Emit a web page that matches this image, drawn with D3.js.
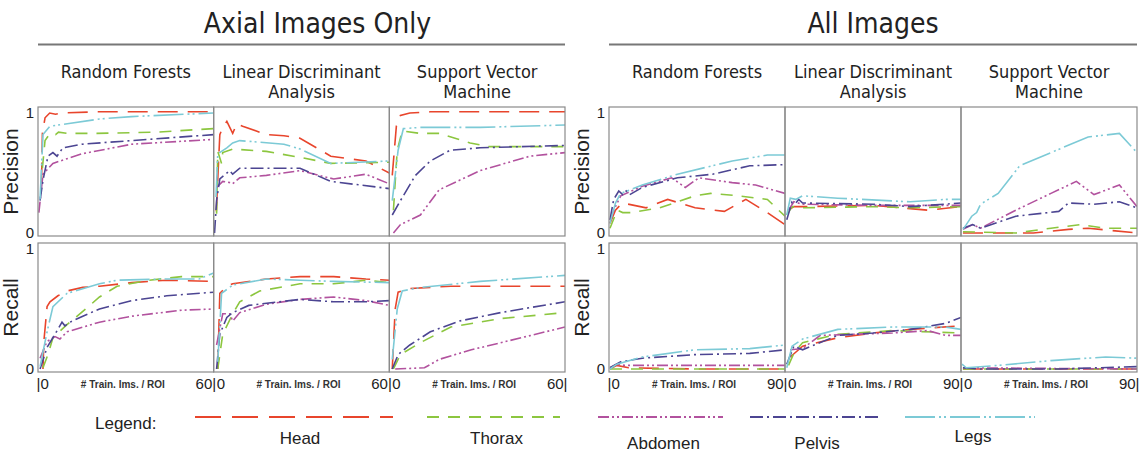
<!DOCTYPE html>
<html>
<head>
<meta charset="utf-8">
<script src="https://cdn.jsdelivr.net/npm/d3@7"></script>
<style>
  body { margin: 0; background: #fff; }
  svg { font-family: "Liberation Sans Narrow", "DejaVu Sans Condensed", sans-serif; }
</style>
</head>
<body>
<div id="chart"></div>
<script>
const series = ["Head", "Thorax", "Abdomen", "Pelvis", "Legs"];
const colors = ["#e8452c", "#8cc63f", "#b2529e", "#4c4592", "#7ccad6"];
const dashes = ["20,10", "12,9", "11,3,2,3,2,3", "13,4,2,4", "30,4,2,3,2,4"];
const classifiers = [["Random Forests"], ["Linear Discriminant", "Analysis"], ["Support Vector", "Machine"]];
const groupTitles = ["Axial Images Only", "All Images"];
const xMax = [60, 90];
const rowLabels = ["Precision", "Recall"];
const yTicks = [0, 1];

// each panel: 5 series (Head, Thorax, Abdomen, Pelvis, Legs) of [# train ims, value]
const axialRfPrec = [
  [[1.2,0.42],[1.5,0.83],[2.4,0.96],[4,1.0],[6,0.99],[8,1.0],[20,1.01],[60,1.01]],
  [[1.5,0.54],[2.4,0.77],[4.1,0.83],[6,0.82],[7,0.84],[10,0.83],[20,0.83],[40,0.84],[60,0.87]],
  [[0.3,0.17],[1.7,0.49],[5.1,0.58],[15,0.66],[32,0.74],[60,0.78]],
  [[0.7,0.27],[1.7,0.44],[3.4,0.64],[5.1,0.67],[6.5,0.64],[8.5,0.71],[15,0.74],[32,0.77],[60,0.82]],
  [[0.7,0.28],[1.7,0.82],[4.1,0.89],[10,0.91],[21,0.95],[32,0.97],[60,1.0]]
];
const axialLdaPrec = [
  [[0.9,0.18],[2.1,0.82],[3.1,0.88],[4.5,0.93],[5.5,0.88],[6.5,0.83],[7.9,0.91],[9.9,0.89],[18,0.82],[24,0.81],[29.5,0.79],[40,0.64],[52,0.6],[60,0.5]],
  [[1,0.16],[1.4,0.68],[2.7,0.58],[3.1,0.67],[6.5,0.7],[18,0.68],[29.5,0.63],[40,0.58],[60,0.59]],
  [[1,0.38],[3.1,0.43],[5.5,0.42],[6.5,0.41],[8.9,0.46],[18,0.48],[29.5,0.52],[41,0.45],[52,0.49],[60,0.41]],
  [[0.3,0],[1,0.27],[2.1,0.45],[5.5,0.52],[6.5,0.49],[8.9,0.54],[29.5,0.54],[40,0.43],[60,0.37]],
  [[0.8,0.3],[1.4,0.66],[4.5,0.71],[6.5,0.75],[8.9,0.77],[24,0.74],[29.5,0.7],[40,0.58],[60,0.6]]
];
const axialSvmPrec = [
  [[1,0.48],[2.4,0.89],[3.8,0.98],[7,1.0],[14,1.01],[60,1.01]],
  [[1.4,0.19],[2.7,0.69],[4.4,0.85],[10.6,0.83],[17,0.83],[27.6,0.75],[34,0.72],[60,0.72]],
  [[1.4,0],[3.8,0.07],[10.6,0.15],[17,0.36],[31,0.52],[48,0.64],[60,0.67]],
  [[1,0.15],[3.8,0.27],[8.9,0.48],[14,0.6],[20.8,0.69],[31,0.71],[60,0.73]],
  [[1,0.27],[3,0.69],[4.8,0.87],[10.6,0.88],[31,0.88],[60,0.9]]
];
const axialRfRec = [
  [[1.7,0],[2,0.23],[3.1,0.52],[4.1,0.56],[6.8,0.61],[9.9,0.65],[15.3,0.68],[21,0.69],[32,0.72],[44,0.74],[60,0.73]],
  [[1.7,0.01],[3.4,0.12],[5.1,0.26],[9.9,0.37],[15.3,0.48],[21,0.6],[27,0.69],[38,0.74],[49,0.77],[60,0.77]],
  [[0.7,0.09],[3.1,0.23],[5.8,0.27],[7.5,0.25],[9.9,0.31],[21,0.39],[32,0.44],[49,0.49],[60,0.5]],
  [[0.7,0],[3.1,0.18],[5.8,0.29],[8.2,0.39],[9.2,0.36],[10.9,0.39],[15.3,0.44],[21,0.5],[32,0.57],[44,0.61],[60,0.64]],
  [[0.7,0.02],[3.1,0.31],[5.1,0.52],[9.9,0.63],[21,0.71],[27,0.74],[44,0.75],[55,0.75],[60,0.8]]
];
const axialLdaRec = [
  [[1.4,0],[2.1,0.63],[4.5,0.69],[6.5,0.71],[18,0.75],[29.5,0.77],[41,0.77],[52,0.75],[60,0.74]],
  [[1.4,0],[3.1,0.29],[6.5,0.46],[8.9,0.56],[15.7,0.65],[29.5,0.71],[41,0.71],[52,0.74],[60,0.72]],
  [[1,0.2],[3.1,0.46],[5.5,0.46],[6.5,0.4],[8.9,0.47],[18,0.54],[29.5,0.58],[41,0.6],[52,0.57],[60,0.53]],
  [[1,0],[2.1,0.29],[4.5,0.43],[6.5,0.47],[12,0.53],[29.5,0.58],[41,0.56],[52,0.56],[60,0.57]],
  [[1.4,0.06],[2.7,0.63],[6.5,0.7],[18,0.75],[29.5,0.74],[41,0.73],[60,0.72]]
];
const axialSvmRec = [
  [[1,0],[2,0.5],[3,0.64],[7,0.67],[21,0.69],[60,0.69]],
  [[1.4,0],[3.8,0.12],[10.6,0.22],[21,0.35],[38,0.42],[60,0.47]],
  [[2,0],[12,0.01],[17,0.08],[28,0.16],[45,0.26],[60,0.35]],
  [[1,0],[3,0.12],[7,0.2],[14,0.31],[24,0.4],[38,0.47],[60,0.56]],
  [[1,0.08],[2.7,0.5],[4.4,0.65],[10.6,0.68],[31,0.73],[60,0.78]]
];
const allRfPrec = [
  [[0.5,0.08],[3.3,0.19],[5,0.22],[7,0.25],[19,0.21],[30,0.28],[44,0.21],[59,0.18],[70,0.28],[81,0.17],[90,0.07]],
  [[0.5,0.04],[4.2,0.19],[7,0.17],[11.5,0.17],[26,0.21],[44,0.31],[52,0.33],[66,0.31],[81,0.28],[90,0.14]],
  [[0.5,0.11],[3.3,0.22],[6,0.31],[17,0.39],[32,0.46],[39,0.38],[46,0.46],[63,0.42],[75,0.4],[90,0.33]],
  [[0.5,0.11],[2.4,0.28],[5,0.35],[7,0.32],[8.8,0.35],[10.6,0.32],[17,0.38],[35,0.46],[53,0.49],[72,0.56],[90,0.57]],
  [[0.5,0.08],[3.3,0.25],[6,0.33],[17,0.4],[35,0.49],[63,0.6],[81,0.65],[90,0.65]]
];
const allLdaPrec = [
  [[1.8,0.19],[4.5,0.22],[9,0.22],[45,0.23],[73,0.19],[90,0.22]],
  [[0.9,0.15],[3.6,0.22],[9,0.21],[45,0.22],[64,0.21],[90,0.22]],
  [[1.8,0.19],[4.5,0.26],[9,0.24],[45,0.23],[90,0.23]],
  [[0.9,0.11],[3.6,0.26],[5.5,0.25],[7,0.28],[9,0.25],[45,0.24],[64,0.22],[90,0.25]],
  [[0.9,0.15],[2.7,0.29],[5.5,0.28],[9,0.31],[27,0.29],[64,0.26],[82,0.28],[90,0.28]]
];
const allSvmPrec = [
  [[1,0],[37,0],[55,0.03],[65,0.04],[90,0]],
  [[1,0.01],[28,0],[46,0.04],[61,0.07],[74,0.04],[90,0.04]],
  [[1,0.03],[6,0.07],[10,0.04],[28,0.19],[46,0.33],[59,0.43],[68,0.32],[81,0.4],[90,0.22]],
  [[1,0.04],[6,0.07],[10,0.04],[28,0.14],[50,0.18],[55,0.25],[68,0.24],[81,0.26],[90,0.21]],
  [[1,0.03],[2.7,0.07],[5.5,0.14],[8,0.17],[10,0.24],[19,0.33],[30,0.56],[46,0.67],[65,0.8],[81,0.83],[90,0.67]]
];
const allRfRec = [
  [[0.5,0],[4,0.03],[10,0.01],[44,0],[90,0]],
  [[0.5,0],[10,0],[90,0]],
  [[0.5,0.01],[4,0.04],[8,0.03],[26,0.03],[44,0.03],[90,0.03]],
  [[0.5,0.01],[6,0.06],[17,0.09],[44,0.12],[72,0.13],[90,0.16]],
  [[0.5,0],[4,0.04],[17,0.1],[44,0.16],[72,0.17],[84,0.19],[90,0.2]]
];
const allLdaRec = [
  [[2.7,0.1],[9,0.19],[27,0.26],[45,0.3],[64,0.33],[90,0.36]],
  [[1.8,0.03],[4.5,0.13],[9,0.22],[27,0.29],[55,0.32],[90,0.3]],
  [[2.7,0.16],[9,0.17],[18,0.28],[55,0.3],[73,0.32],[82,0.28],[90,0.28]],
  [[0.9,0.04],[4.5,0.19],[9,0.16],[27,0.28],[45,0.3],[64,0.33],[82,0.38],[90,0.43]],
  [[0.9,0.01],[3.6,0.19],[9,0.25],[27,0.33],[55,0.35],[82,0.35],[90,0.33]]
];
const allSvmRec = [
  [[1,0],[90,0]],
  [[1,0],[90,0]],
  [[1,0.01],[90,0]],
  [[1,0.01],[10,0],[50,0],[90,0.02]],
  [[0.5,0.04],[2.7,0.01],[19,0.03],[46,0.07],[74,0.1],[90,0.09]]
];

const panelData = [
  [[axialRfPrec, axialLdaPrec, axialSvmPrec], [axialRfRec, axialLdaRec, axialSvmRec]],
  [[allRfPrec, allLdaPrec, allSvmPrec], [allRfRec, allLdaRec, allSvmRec]]
];

// layout
const W = 1147, H = 455;
const groupX = [38, 609];
const groupW = [527, 528];
const rowY = [107, 243];
const panelH = 129;
const legendX = [[195, 393], [427, 560], [598, 723], [750, 878], [905, 1035]];
const legendTextY = [444, 444, 449, 449, 442];

const svg = d3.select("#chart").append("svg")
  .attr("width", W)
  .attr("height", H);

const defs = svg.append("defs");
const line = d3.line().x(d => d[0]).y(d => d[1]);

groupTitles.forEach((title, g) => {
  const gx = groupX[g], pw = groupW[g] / 3;

  svg.append("text")
    .attr("x", gx + groupW[g] / 2 + (g === 0 ? 16 : 0))
    .attr("y", 33)
    .attr("text-anchor", "middle")
    .style("font-size", "28px")
    .style("fill", "#222")
    .text(title);

  svg.append("line")
    .attr("x1", gx).attr("x2", gx + groupW[g])
    .attr("y1", 44.5).attr("y2", 44.5)
    .attr("stroke", "#777").attr("stroke-width", 2);

  classifiers.forEach((lines, c) => {
    lines.forEach((t, k) => {
      svg.append("text")
        .attr("x", gx + pw * c + pw / 2)
        .attr("y", 78 + k * 20)
        .attr("text-anchor", "middle")
        .style("font-size", "18px")
        .style("fill", "#222")
        .text(t);
    });
  });

  rowLabels.forEach((lab, r) => {
    const top = rowY[r];
    const y = d3.scaleLinear().domain([0, 1]).range([top + 126, top + 6]);

    svg.append("text")
      .attr("transform", "translate(" + (gx - 20) + "," + (top + panelH / 2) + ")rotate(-90)")
      .attr("text-anchor", "middle")
      .style("font-family", "'Liberation Sans', sans-serif")
      .style("font-size", "21px")
      .style("fill", "#222")
      .text(lab);

    const yAxis = svg.append("g")
      .attr("transform", "translate(" + gx + ",0)")
      .call(d3.axisLeft(y).tickValues(yTicks).tickSize(0).tickPadding(4).tickFormat(d3.format("d")));
    yAxis.select(".domain").remove();
    yAxis.selectAll("text")
      .style("font-family", "'Liberation Sans', sans-serif")
      .style("font-size", "15px")
      .style("fill", "#222");

    for (let c = 0; c < 3; c++) {
      const px = gx + pw * c;
      const x = d3.scaleLinear().domain([0, xMax[g]]).range([px, px + pw]);
      const clipId = "clip" + g + r + c;

      defs.append("clipPath").attr("id", clipId)
        .append("rect")
        .attr("x", px).attr("y", top)
        .attr("width", pw).attr("height", panelH);

      const plot = svg.append("g").attr("clip-path", "url(#" + clipId + ")");
      plot.selectAll("path.series")
        .data(panelData[g][r][c])
        .join("path")
        .attr("class", "series")
        .attr("d", pts => line(pts.map(p => [x(p[0]), y(p[1])])))
        .attr("fill", "none")
        .attr("stroke", (d, i) => colors[i])
        .attr("stroke-width", 1.6)
        .attr("stroke-dasharray", (d, i) => dashes[i]);

      svg.append("rect")
        .attr("x", px).attr("y", top)
        .attr("width", pw).attr("height", panelH)
        .attr("fill", "none")
        .attr("stroke", "#8a8a8a")
        .attr("stroke-width", 1.2);

      if (r === 1) {
        // the bar of "60|" also serves as the bar before the next panel's 0
        const xAxis = svg.append("g")
          .attr("transform", "translate(0," + (top + panelH) + ")")
          .call(d3.axisBottom(x).tickValues([0, xMax[g]]).tickSize(0).tickPadding(6)
            .tickFormat(d => d === 0 ? (c === 0 ? "|0" : "0") : d + "|"));
        xAxis.select(".domain").remove();
        xAxis.selectAll("text")
          .attr("text-anchor", d => d === 0 ? "start" : "end")
          .attr("dx", d => d === 0 ? (c === 0 ? -2 : 2.5) : 2)
          .style("font-family", "'Liberation Sans', sans-serif")
          .style("font-size", "15px")
          .style("fill", "#222");

        svg.append("text")
          .attr("x", px + pw / 2 - 3)
          .attr("y", top + panelH + 16)
          .attr("text-anchor", "middle")
          .style("font-family", "'Liberation Sans', sans-serif")
          .style("font-size", "10px")
          .style("font-weight", "bold")
          .style("fill", "#333")
          .text("# Train. Ims. / ROI");
      }
    }
  });
});

// legend
svg.append("text")
  .attr("x", 95).attr("y", 429)
  .style("font-family", "'Liberation Sans', sans-serif")
  .style("font-size", "17px")
  .style("fill", "#222")
  .text("Legend:");

series.forEach((s, i) => {
  svg.append("line")
    .attr("x1", legendX[i][0]).attr("x2", legendX[i][1])
    .attr("y1", 417).attr("y2", 417)
    .attr("stroke", colors[i])
    .attr("stroke-width", 1.8)
    .attr("stroke-dasharray", i === 0 ? "26,11" : dashes[i]);
  svg.append("text")
    .attr("x", (legendX[i][0] + legendX[i][1]) / 2 + (i === 0 ? 6 : 3))
    .attr("y", legendTextY[i])
    .attr("text-anchor", "middle")
    .style("font-family", "'Liberation Sans', sans-serif")
    .style("font-size", "17px")
    .style("fill", "#222")
    .text(s);
});
</script>
</body>
</html>
